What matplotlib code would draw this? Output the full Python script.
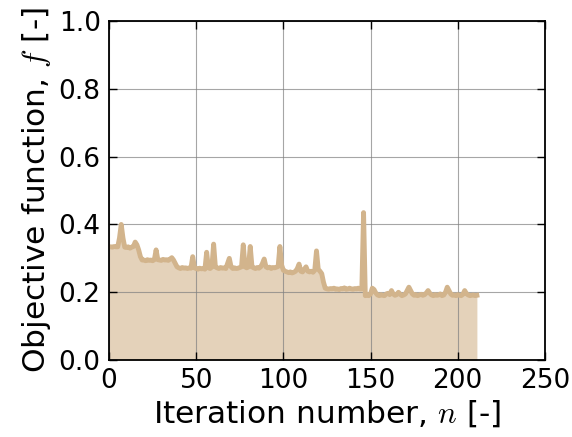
import matplotlib
matplotlib.use('Agg')
import matplotlib.pyplot as plt
import numpy as np

# Objective function per iteration
f_vals = [
    0.334, 0.334, 0.333, 0.335, 0.334, 0.334, 0.360, 0.400, 0.360, 0.333,
    0.332, 0.334, 0.330, 0.333, 0.335, 0.348, 0.340, 0.325, 0.305, 0.295,
    0.295, 0.293, 0.296, 0.294, 0.295, 0.293, 0.296, 0.325, 0.296, 0.295,
    0.294, 0.297, 0.295, 0.296, 0.294, 0.298, 0.302, 0.295, 0.285, 0.275,
    0.272, 0.270, 0.273, 0.271, 0.272, 0.270, 0.272, 0.271, 0.305, 0.272,
    0.270, 0.268, 0.271, 0.269, 0.270, 0.268, 0.318, 0.272, 0.270, 0.275,
    0.342, 0.275, 0.272, 0.270, 0.273, 0.271, 0.272, 0.270, 0.285, 0.300,
    0.275, 0.270, 0.272, 0.270, 0.271, 0.273, 0.275, 0.340, 0.275, 0.272,
    0.275, 0.335, 0.275, 0.272, 0.270, 0.273, 0.271, 0.275, 0.285, 0.298,
    0.275, 0.272, 0.274, 0.270, 0.273, 0.272, 0.274, 0.276, 0.335, 0.280,
    0.265, 0.262, 0.260, 0.258, 0.260, 0.257, 0.259, 0.262, 0.270, 0.283,
    0.262, 0.260, 0.268, 0.275, 0.262, 0.260, 0.262, 0.259, 0.265, 0.322,
    0.268, 0.262, 0.255, 0.230, 0.212, 0.210, 0.209, 0.211, 0.210, 0.212,
    0.209, 0.210, 0.208, 0.211, 0.210, 0.213, 0.209, 0.210, 0.212, 0.210,
    0.209, 0.211, 0.210, 0.212, 0.210, 0.210, 0.435, 0.190, 0.192, 0.190,
    0.195, 0.212, 0.208, 0.198, 0.192, 0.190, 0.193, 0.191, 0.190, 0.195,
    0.197, 0.193, 0.205, 0.195, 0.191, 0.193, 0.200, 0.194, 0.190, 0.192,
    0.195, 0.205, 0.215, 0.205, 0.195, 0.191, 0.193, 0.190, 0.192, 0.194,
    0.191, 0.193, 0.198, 0.205, 0.197, 0.192, 0.190, 0.193, 0.191, 0.192,
    0.195, 0.190, 0.192, 0.200, 0.215, 0.205, 0.195, 0.191, 0.192, 0.190,
    0.193, 0.191, 0.190, 0.194, 0.205, 0.196, 0.192, 0.190, 0.191, 0.192,
    0.190, 0.191,
]
iters = np.arange(len(f_vals))

tan = '#D2B48C'

plt.rcParams.update({
    'font.family': 'DejaVu Sans',
    'mathtext.fontset': 'cm',
})

fig = plt.figure(figsize=(5.72, 4.37), dpi=100)
ax = fig.add_axes([0.1906, 0.176, 0.762, 0.776])

ax.fill_between(iters, f_vals, 0, color=tan, alpha=0.6, linewidth=0, zorder=1)
ax.plot(iters, f_vals, color=tan, linewidth=3.5, zorder=3)

ax.set_xlim(0, 250)
ax.set_ylim(0, 1)
ax.set_xticks(np.arange(0, 251, 50))
ax.set_yticks(np.arange(0, 1.01, 0.2))
ax.set_yticklabels([f'{v:.1f}' for v in np.arange(0, 1.01, 0.2)])

ax.grid(True, color='#808080', linewidth=0.8, alpha=0.7, zorder=2)
ax.set_axisbelow(False)
ax.tick_params(direction='in', top=True, right=True, length=6, width=1,
               labelsize=19, pad=6)
for sp in ax.spines.values():
    sp.set_linewidth(1.3)
    sp.set_zorder(4)

ax.set_xlabel('Iteration number, $n$ [-]', fontsize=22.5, labelpad=3)
ax.set_ylabel('Objective function, $f$ [-]', fontsize=22.5, labelpad=4)

fig.savefig('out.png', dpi=100)
plt.close(fig)
